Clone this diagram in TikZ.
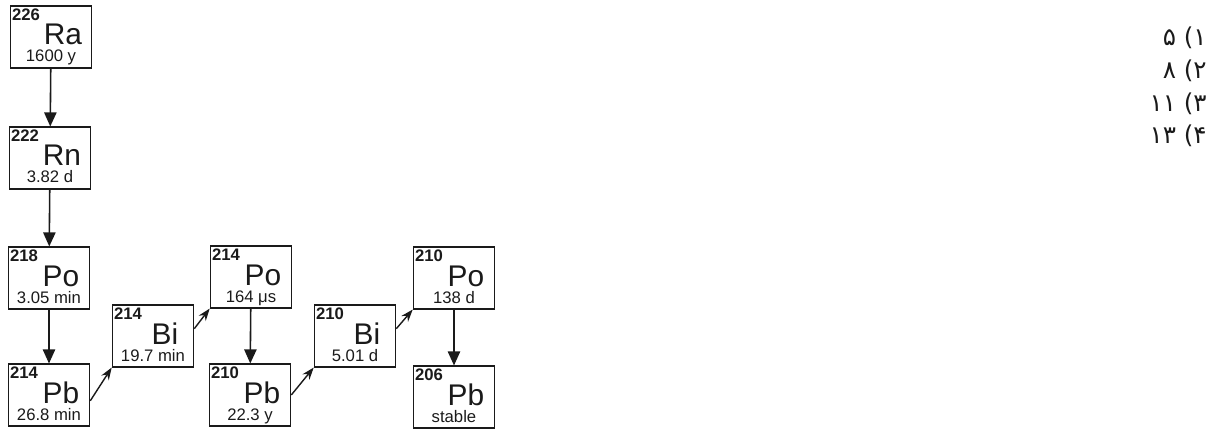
\documentclass[tikz,border=0pt]{standalone}
\usepackage{fontspec}
\setmainfont{Liberation Sans}
\newfontfamily\arabicfont[Script=Arabic]{DejaVu Sans}
\TeXXeTstate=1
\usetikzlibrary{arrows.meta,positioning,calc}
\definecolor{ink}{HTML}{1A1A1A}
\tikzset{
  nuc/.style={draw=ink,line width=0.9pt,minimum width=1.62cm,minimum height=1.23cm,inner sep=0pt},
  mass/.style={font=\fontsize{9.5}{10}\selectfont\bfseries,text=ink,inner sep=0pt,anchor=north west},
  sym/.style={font=\fontsize{17}{17}\selectfont,text=ink,inner sep=0pt,anchor=base},
  life/.style={font=\fontsize{9.5}{9.5}\selectfont,text=ink,inner sep=0pt,anchor=base},
  decay/.style={draw=ink,line width=0.9pt,-{Triangle[width=7pt,length=8pt]}},
  beta/.style={draw=ink,line width=0.8pt,-{Stealth[width=5pt,length=7pt]}},
  choice/.style={font=\fontsize{14}{14}\selectfont\arabicfont,text=ink,inner sep=0pt,anchor=east}
}

\begin{document}
\begin{tikzpicture}[x=0.02cm,y=-0.02cm]
    \useasboundingbox (0,0) rectangle (1211,429);
    % decay chain boxes
    \foreach \n/\x/\y/\m/\s/\t in {ra/51/37/226/Ra/1600 y,rn/50/158/222/Rn/3.82 d,
        poa/49/278/218/Po/3.05 min,pba/49/395/214/Pb/26.8 min,bia/153/336/214/Bi/19.7 min,
        pob/251/277/214/Po/164 μs,pbb/250/395/210/Pb/22.3 y,bib/355/336/210/Bi/5.01 d,
        poc/454/278/210/Po/138 d,pbc/454/397/206/Pb/stable}{
      \node[nuc] (\n) at (\x,\y) {};
      \node[mass] (\n-m) at ($(\n.north west)+(2,3)$) {\m};
      \node[sym] (\n-s) at ($(\n.center)+(12,8)$) {\s};
      \node[life] (\n-t) at ($(\n.center)+(0,25)$) {\t};}
    % alpha decays
    \foreach \a/\b in {ra/rn,rn/poa,poa/pba,pob/pbb,poc/pbc}
      \draw[decay] (\a) -- (\b);
    % beta decays
    \draw[beta] (pba.-8) -- (bia.south west);
    \draw[beta] (bia.10) -- (pob.south west);
    \draw[beta] (pbb.east) -- (bib.south west);
    \draw[beta] (bib.10) -- (poc.south west);
    % answer choices
    \foreach \i/\a/\b/\y in {1/۱/۵/38,2/۲/۸/71,3/۳/۱۱/104,4/۴/۱۳/136}
      \node[choice] (opt\i) at (1207,\y) {\beginR\a) \b\endR};
\end{tikzpicture}
\end{document}
